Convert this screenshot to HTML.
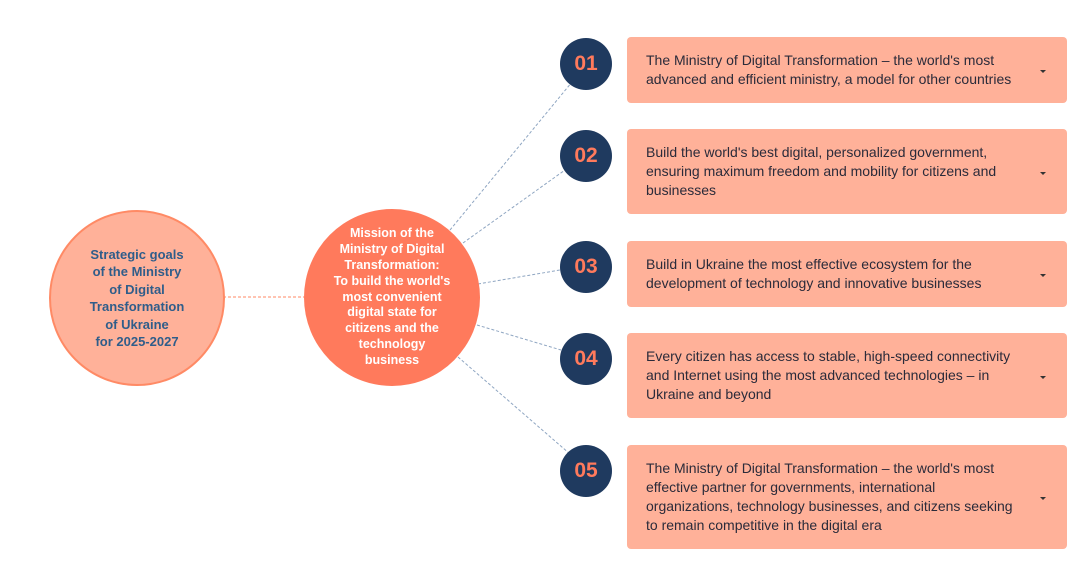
<!DOCTYPE html>
<html><head><style>
body{margin:0;width:1075px;height:580px;background:#fff;position:relative;font-family:"Liberation Sans",sans-serif;overflow:hidden}
.c{position:absolute;border-radius:50%;display:flex;align-items:center;justify-content:center;text-align:center;font-weight:bold}
.n{position:absolute;width:52px;height:52px;border-radius:50%;background:#1f3a5f;color:#ff7a5c;font-weight:bold;font-size:21px;display:flex;align-items:center;justify-content:center;left:560px}
.b{position:absolute;left:627px;width:440px;background:#ffb199;border-radius:4px;color:#2b2b3a;font-size:14px;line-height:19px;box-sizing:border-box;padding:0 42px 0 19px;display:flex;align-items:center}
.b:after{content:"";position:absolute;right:21px;top:50%;border-left:3px solid transparent;border-right:3px solid transparent;border-top:3px solid #333}
</style></head><body>
<svg width="1075" height="580" style="position:absolute;left:0;top:0">
<line x1="223" y1="297" x2="304" y2="297" stroke="#ff8a65" stroke-dasharray="3,2"/>
<g stroke="#8fa6c2" stroke-dasharray="3,2" stroke-width="1">
<line x1="450" y1="230" x2="572" y2="82"/>
<line x1="463" y1="243" x2="565" y2="170"/>
<line x1="478" y1="284" x2="560" y2="270"/>
<line x1="477" y1="325" x2="561" y2="350"/>
<line x1="458" y1="357" x2="570" y2="454"/>
</g></svg>
<div class="c" style="left:49px;top:210px;width:172px;height:172px;background:#ffb199;border:2px solid #ff8a65;color:#2f5d8a;font-size:13px;line-height:17.5px">Strategic goals<br>of the Ministry<br>of Digital<br>Transformation<br>of Ukraine<br>for 2025-2027</div>
<div class="c" style="left:304px;top:209px;width:176px;height:177px;background:#ff7a5c;color:#fff;font-size:12.5px;line-height:15.8px">Mission of the<br>Ministry of Digital<br>Transformation:<br>To build the world's<br>most convenient<br>digital state for<br>citizens and the<br>technology<br>business</div>
<div class="n" style="top:38px">01</div>
<div class="n" style="top:130px">02</div>
<div class="n" style="top:241px">03</div>
<div class="n" style="top:333px">04</div>
<div class="n" style="top:445px">05</div>
<div class="b" style="top:37px;height:66px">The Ministry of Digital Transformation – the world's most advanced and efficient ministry, a model for other countries</div>
<div class="b" style="top:129px;height:85px">Build the world's best digital, personalized government, ensuring maximum freedom and mobility for citizens and businesses</div>
<div class="b" style="top:241px;height:66px">Build in Ukraine the most effective ecosystem for the development of technology and innovative businesses</div>
<div class="b" style="top:333px;height:85px">Every citizen has access to stable, high-speed connectivity and Internet using the most advanced technologies – in Ukraine and beyond</div>
<div class="b" style="top:445px;height:104px">The Ministry of Digital Transformation – the world's most effective partner for governments, international organizations, technology businesses, and citizens seeking to remain competitive in the digital era</div>
</body></html>
